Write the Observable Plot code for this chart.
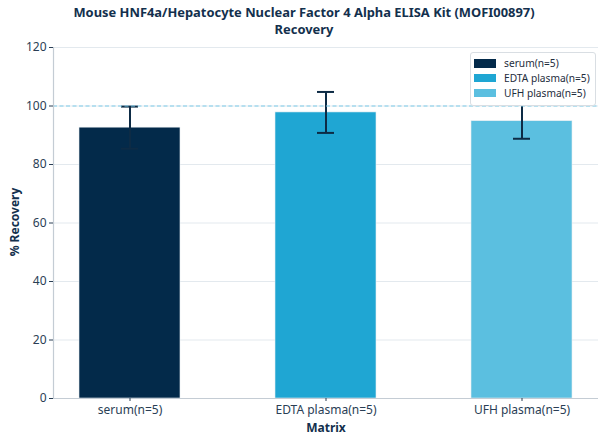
<!DOCTYPE html>
<html>
<head>
<meta charset="utf-8">
<script src="https://cdn.jsdelivr.net/npm/d3@7"></script>
<script src="https://cdn.jsdelivr.net/npm/@observablehq/plot@0.6"></script>
<style>
  html, body { margin: 0; padding: 0; background: #fff; }
  body { width: 608px; height: 444px; position: relative; overflow: hidden; font-family: "Noto Sans", sans-serif; }
  #title { position: absolute; left: 0; top: 4px; width: 608px; text-align: center; font-weight: bold; font-size: 12.9px; line-height: 17px; color: #13304d; }
  #ylabel { position: absolute; left: 14px; top: 222px; transform: translate(-50%, -50%) rotate(-90deg); white-space: nowrap; font-weight: bold; font-size: 12px; color: #13304d; }
  #chart { position: absolute; left: 0; top: 30px; }
  #legend { position: absolute; left: 470px; top: 52px; width: 124px; background: #fff; border: 1px solid #d9dee3; border-radius: 3px; padding: 3px 0 5px 0; font-size: 10.2px; color: #1e2d3d; }
  #legend .row { display: flex; align-items: center; height: 14.8px; }
  #legend .sw { width: 22px; height: 8.5px; margin-left: 3px; margin-right: 8px; }
</style>
</head>
<body>
<div id="chart"></div>
<div id="title">Mouse HNF4a/Hepatocyte Nuclear Factor 4 Alpha ELISA Kit (MOFI00897)<br>Recovery</div>
<div id="ylabel">% Recovery</div>
<div id="legend"></div>
<script>
const categories = ["serum(n=5)", "EDTA plasma(n=5)", "UFH plasma(n=5)"];
const recovery = [92.6, 97.8, 94.8];
const errors = [7.2, 7.0, 6.0];
const colors = ["#032a4a", "#1fa6d3", "#5bbfe0"];
const yTicks = [0, 20, 40, 60, 80, 100, 120];
const reference = [100];

const data = categories.map((c, i) => ({
  matrix: c, value: recovery[i], err: errors[i],
  lo: recovery[i] - errors[i], hi: recovery[i] + errors[i]
}));

const ink = "#2a3e55";
const chart = Plot.plot({
  width: 608,
  height: 414,
  marginLeft: 53,
  marginRight: 10,
  marginTop: 17,
  marginBottom: 46,
  style: { fontFamily: "Noto Sans", fontSize: "12px", color: ink, background: "transparent" },
  x: { domain: categories, paddingInner: 0.487, paddingOuter: 0.127, label: null },
  y: { domain: [0, 120], label: null },
  color: { domain: categories, range: colors },
  marks: [
    Plot.gridY(yTicks, { stroke: "#e3e9ee", strokeOpacity: 1, strokeWidth: 1 }),
    Plot.barY(data, { x: "matrix", y: "value", fill: "matrix", stroke: "#e8eef2", strokeWidth: 0.6 }),
    Plot.ruleX(data, { x: "matrix", y1: "lo", y2: "hi", stroke: "#0d2b45", strokeWidth: 2 }),
    Plot.tickY(data, { x: "matrix", y: "lo", stroke: "#0d2b45", strokeWidth: 2, insetLeft: 42, insetRight: 42 }),
    Plot.tickY(data, { x: "matrix", y: "hi", stroke: "#0d2b45", strokeWidth: 2, insetLeft: 42, insetRight: 42 }),
    Plot.ruleY(reference, { stroke: "#7ccbe8", strokeWidth: 1, strokeDasharray: "4,2.5" }),
    Plot.frame({ anchor: "left", stroke: "#c4ccd4", strokeWidth: 1.2 }),
    Plot.ruleY([0], { stroke: "#c4ccd4", strokeWidth: 1.2 }),
    Plot.axisY(yTicks, { tickSize: 4, tickPadding: 3, stroke: ink, fill: ink, fontSize: 12 }),
    Plot.axisX({ tickSize: 3, tickPadding: 4, stroke: ink, fill: ink, fontSize: 12 }),
    Plot.axisX({ ticks: [], label: "Matrix", labelAnchor: "center", labelOffset: 33, fontWeight: "bold", fontSize: 12, fill: "#13304d" })
  ]
});
document.getElementById("chart").appendChild(chart);

const legend = document.getElementById("legend");
categories.forEach((c, i) => {
  const row = document.createElement("div");
  row.className = "row";
  const sw = document.createElement("div");
  sw.className = "sw";
  sw.style.background = colors[i];
  const t = document.createElement("span");
  t.textContent = c;
  row.appendChild(sw); row.appendChild(t);
  legend.appendChild(row);
});
</script>
</body>
</html>
